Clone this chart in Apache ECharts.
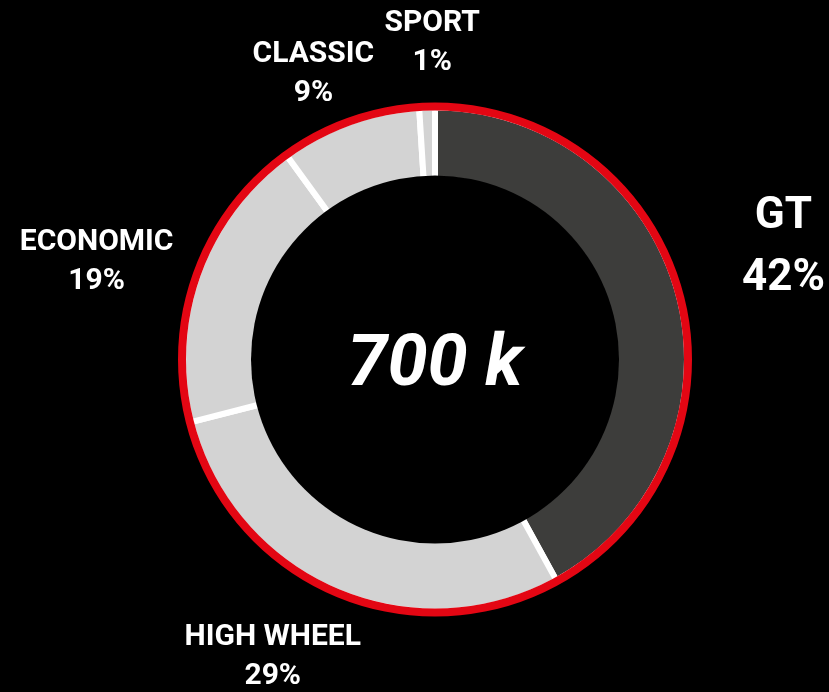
<!DOCTYPE html>
<html>
<head>
<meta charset="utf-8">
<script src="https://cdn.jsdelivr.net/npm/echarts@6/dist/echarts.min.js"></script>
<style>
  html, body { margin: 0; padding: 0; background: #000; }
  #chart { width: 829px; height: 692px; }
</style>
</head>
<body>
<div id="chart"></div>
<script>
// ---- data ----
const categories = ['GT', 'HIGH WHEEL', 'ECONOMIC', 'CLASSIC', 'SPORT'];
const shares = [42, 29, 19, 9, 1];
const totalLabel = '700 k';

// ---- style / layout config ----
const sliceColors = ['#3d3d3b', '#d3d3d3', '#d3d3d3', '#d3d3d3', '#d3d3d3'];
const CX = 435, CY = 359.5;
// label placement: distance from centre and small angular shift (degrees)
const labelDist = [366, 339, 352, 310, 317];
const labelRot = [3.4, -5.2, 3.8, 3.3, -1.3];

const chart = echarts.init(document.getElementById('chart'));
const total = shares.reduce((a, b) => a + b, 0);
const midAngles = [];
let acc = 90;
shares.forEach(v => {
  const span = v / total * 360;
  midAngles.push(acc - span / 2);
  acc -= span;
});

const font = 'Roboto, "Noto Sans", sans-serif';

chart.setOption({
  backgroundColor: '#000',
  animation: false,
  series: [
    {
      type: 'pie',
      z: 2,
      center: [CX, CY],
      radius: [180, 252],
      startAngle: 90,
      clockwise: true,
      avoidLabelOverlap: false,
      silent: true,
      itemStyle: { borderColor: '#ffffff', borderWidth: 6 },
      label: {
        show: true,
        position: 'outside',
        color: '#ffffff',
        fontFamily: font,
        fontWeight: 'bold',
        fontSize: 30,
        lineHeight: 39,
        align: 'center',
        formatter: p => p.name + '\n' + p.value + '%'
      },
      labelLine: { show: false },
      labelLayout: function (params) {
        const i = params.dataIndex;
        const a = (midAngles[i] + labelRot[i]) * Math.PI / 180;
        return {
          x: CX + labelDist[i] * Math.cos(a),
          y: CY - labelDist[i] * Math.sin(a),
          align: 'center',
          verticalAlign: 'middle'
        };
      },
      data: categories.map((c, i) => {
        const d = { name: c, value: shares[i], itemStyle: { color: sliceColors[i] } };
        if (i === 0) d.label = { fontSize: 44, lineHeight: 62 };
        return d;
      })
    },
    {
      type: 'pie',
      z: 3,
      center: [CX, CY],
      radius: [249, 257],
      silent: true,
      label: { show: false },
      labelLine: { show: false },
      itemStyle: { color: '#e30613', borderWidth: 0 },
      data: [{ value: 1, name: 'ring' }]
    },
    {
      type: 'pie',
      z: 3,
      center: [CX, CY],
      radius: [0, 184],
      silent: true,
      labelLine: { show: false },
      itemStyle: { color: '#000000', borderWidth: 0 },
      label: {
        show: true,
        position: 'center',
        formatter: totalLabel,
        color: '#ffffff',
        fontFamily: font,
        fontWeight: 'bold',
        fontStyle: 'italic',
        fontSize: 72,
        offset: [0, 7]
      },
      data: [{ value: 1, name: 'total' }]
    }
  ]
});
</script>
</body>
</html>
